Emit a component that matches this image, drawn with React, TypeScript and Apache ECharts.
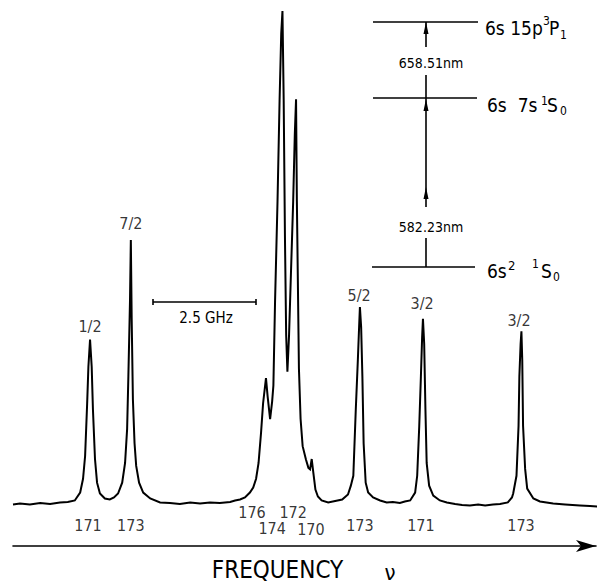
import React, { useEffect, useRef } from "react";
import * as echarts from "echarts";

// Frequency (GHz, from left edge of trace) and signal (arb. units, baseline = 0)
const freqGHz = [
  0, 0.17, 0.41, 0.66, 0.9, 1.14, 1.33, 1.5, 1.63, 1.7, 1.75, 1.8, 1.83, 1.87, 1.91, 1.94, 1.99, 2.04, 2.11, 2.23,
  2.35, 2.45, 2.55, 2.65, 2.72, 2.77, 2.8, 2.84, 2.86, 2.88, 2.91, 2.95, 2.99, 3.06, 3.16, 3.33, 3.57, 3.81, 4.05, 4.3,
  4.54, 4.78, 5.02, 5.27, 5.39, 5.51, 5.63, 5.75, 5.83, 5.9, 5.96, 6.02, 6.07, 6.14, 6.18, 6.24, 6.29, 6.32, 6.36, 6.42,
  6.47, 6.51, 6.54, 6.57, 6.6, 6.63, 6.66, 6.7, 6.75, 6.8, 6.84, 6.87, 6.89, 6.92, 6.94, 6.98, 7.03, 7.11, 7.17, 7.21,
  7.25, 7.29, 7.34, 7.4, 7.49, 7.65, 7.82, 7.99, 8.13, 8.2, 8.26, 8.32, 8.37, 8.4, 8.42, 8.45, 8.48, 8.51, 8.56, 8.62,
  8.74, 8.91, 9.07, 9.22, 9.39, 9.51, 9.64, 9.76, 9.81, 9.86, 9.9, 9.93, 9.95, 9.98, 10.01, 10.04, 10.1, 10.2, 10.36, 10.53,
  10.73, 10.9, 11.09, 11.29, 11.46, 11.65, 11.82, 12.01, 12.11, 12.14, 12.22, 12.27, 12.29, 12.32, 12.34, 12.36, 12.38, 12.43, 12.48, 12.63,
  12.79, 13.11, 13.4, 13.76, 14.0, 14.25,
];
const signal = [
  -0.2, 0, -0.2, 0.1, -0.1, 0.2, 0.3, 0.6, 2.2, 5.0, 9.6, 20.3, 27.7, 33.2, 27.7, 19.1, 9.0, 4.2, 2.0, 1.0,
  0.8, 1.2, 2.0, 4.2, 8.2, 15.1, 25.7, 41.2, 53.4, 37.8, 21.1, 12.2, 7.6, 4.2, 2.2, 1.0, 0.2, 0.1, -0.1, 0.2,
  0, 0.2, 0.1, 0.3, 0.6, 0.8, 1.2, 2.2, 3.2, 5.0, 8.2, 14.3, 20.3, 25.4, 21.7, 17.1, 20.7, 23.9, 40.8, 61.2,
  81.6, 95.2, 99.8, 81.6, 54.4, 34.1, 26.7, 34.1, 47.7, 61.2, 74.9, 81.9, 61.2, 40.8, 27.3, 17.1, 11.6, 8.9, 7.2, 6.9,
  9.0, 6.2, 2.8, 1.4, 0.6, 0.2, 0.5, 0.8, 1.8, 3.6, 5.6, 19.1, 29.1, 35.7, 39.8, 35.7, 25.7, 12.2, 4.2, 2.2,
  1.2, 0.6, 0.2, 0.3, 0.1, 0.4, 0.6, 2.2, 5.6, 15.7, 25.7, 33.7, 37.4, 32.3, 19.1, 8.2, 3.6, 1.6, 0.6, 0.2,
  -0.1, -0.3, -0.4, -0.2, -0.4, -0.2, -0.1, 0.2, 1.2, 2.0, 5.6, 15.7, 25.7, 32.3, 34.9, 29.1, 15.7, 7.0, 3.0, 1.0,
  0.4, 0, -0.2, -0.4, -0.5, -0.7,
];

// hyperfine component labels (F values) above peaks
const spinLabels = ["1/2", "7/2", "5/2", "3/2", "3/2"];
const spinFreq = [1.87, 2.86, 8.4, 9.93, 12.28];
const spinLevel = [35.9, 56.8, 42.2, 40.6, 37.1];

// isotope mass numbers below peaks
const isoLabels = ["171", "173", "176", "174", "172", "170", "173", "171", "173"];
const isoFreq = [1.82, 2.86, 5.8, 6.29, 6.8, 7.23, 8.42, 9.9, 12.33];
const isoLevel = [-4.4, -4.4, -1.8, -5.0, -1.8, -5.2, -4.4, -4.4, -4.4];

const NARROW = "'Liberation Sans Narrow', 'DejaVu Sans Condensed', sans-serif";
const COND = "'DejaVu Sans Condensed', 'Liberation Sans Narrow', sans-serif";
const INK = "#000";

function txt(text: string, x: number, y: number, size: number, family = COND, align = "left") {
  return {
    type: "text",
    x,
    y,
    style: {
      text,
      fontSize: size,
      fontFamily: family,
      fill: INK,
      textAlign: align,
      textVerticalAlign: "middle",
      align,
      verticalAlign: "middle",
    },
  };
}
function ln(x1: number, y1: number, x2: number, y2: number, w = 1.6) {
  return { type: "line", shape: { x1, y1, x2, y2 }, style: { stroke: INK, lineWidth: w } };
}
function arrowUp(x: number, tipY: number) {
  return {
    type: "polygon",
    shape: { points: [[x, tipY], [x - 2.5, tipY + 12], [x + 2.5, tipY + 12]] },
    style: { fill: INK },
  };
}

export default function App() {
  const ref = useRef<HTMLDivElement>(null);
  useEffect(() => {
    if (!ref.current) return;
    const chart = echarts.init(ref.current, undefined, { renderer: "svg" });
    const line = freqGHz.map((f, i) => [f, signal[i]]);
    const spinData = spinLabels.map((n, i) => ({ name: n, value: [spinFreq[i], spinLevel[i]] }));
    const isoData = isoLabels.map((n, i) => ({ name: n, value: [isoFreq[i], isoLevel[i]] }));
    const labelSeries = (data: any[], size: number) => ({
      type: "scatter",
      data,
      symbolSize: 0,
      silent: true,
      clip: false,
      itemStyle: { color: INK },
      label: {
        show: true,
        position: "inside",
        formatter: (p: any) => p.name,
        color: INK,
        textBorderWidth: 0,
        textBorderColor: "transparent",
        fontSize: size,
        fontFamily: NARROW,
        align: "center",
        verticalAlign: "middle",
      },
    });
    chart.setOption({
      animation: false,
      backgroundColor: "#fff",
      grid: { left: 13, right: 11, top: 10, bottom: 36 },
      xAxis: {
        type: "value",
        min: 0,
        max: 14.15,
        name: "FREQUENCY",
        nameLocation: "middle",
        nameGap: 12,
        nameTextStyle: {
          fontSize: 24,
          fontFamily: NARROW,
          color: INK,
          padding: [0, 54, 0, 0],
          verticalAlign: "top",
        },
        axisLine: {
          show: true,
          onZero: false,
          symbol: ["none", "arrow"],
          symbolSize: [9, 20],
          lineStyle: { color: INK, width: 1.6 },
        },
        axisTick: { show: false },
        axisLabel: { show: false },
        splitLine: { show: false },
      },
      yAxis: {
        type: "value",
        min: -8.63,
        max: 100,
        show: false,
        splitLine: { show: false },
      },
      series: [
        {
          type: "line",
          data: line,
          showSymbol: false,
          symbol: "none",
          clip: false,
          silent: true,
          lineStyle: { color: INK, width: 2, join: "miter" },
        },
        labelSeries(spinData, 16),
        labelSeries(isoData, 16),
      ],
      graphic: [
        // ν next to axis name
        txt("ν", 390, 572, 22, NARROW, "center"),
        // 2.5 GHz scale bar
        ln(153, 302, 256, 302, 1.6),
        ln(153, 299, 153, 305, 1.6),
        ln(256, 299, 256, 305, 1.6),
        txt("2.5 GHz", 206, 318, 15, NARROW, "center"),
        // energy levels
        ln(373, 22, 478, 22),
        ln(373, 98, 477, 98),
        ln(372, 267, 475, 267),
        ln(426, 22, 426, 47),
        ln(426, 75, 426, 98),
        ln(426, 98, 426, 207),
        ln(426, 238, 426, 267),
        arrowUp(426, 22),
        arrowUp(426, 99),
        arrowUp(426, 187),
        txt("658.51nm", 431, 63, 14, NARROW, "center"),
        txt("582.23nm", 431, 227, 14, NARROW, "center"),
        // level labels
        txt("6s 15p", 485, 28, 19),
        txt("3", 543, 21, 12),
        txt("P", 549, 28, 19),
        txt("1", 560, 35, 12),
        txt("6s  7s", 487, 105, 19),
        txt("1", 541, 101, 12),
        txt("S", 547, 105, 19),
        txt("0", 560, 111, 12),
        txt("6s", 487, 271, 19),
        txt("2", 508, 265, 13),
        txt("1", 532, 264, 12),
        txt("S", 541, 271, 19),
        txt("0", 553, 277, 12),
      ],
    });
    return () => chart.dispose();
  }, []);
  return <div ref={ref} style={{ width: 607, height: 587, position: "absolute", left: 0, top: 0 }} />;
}
